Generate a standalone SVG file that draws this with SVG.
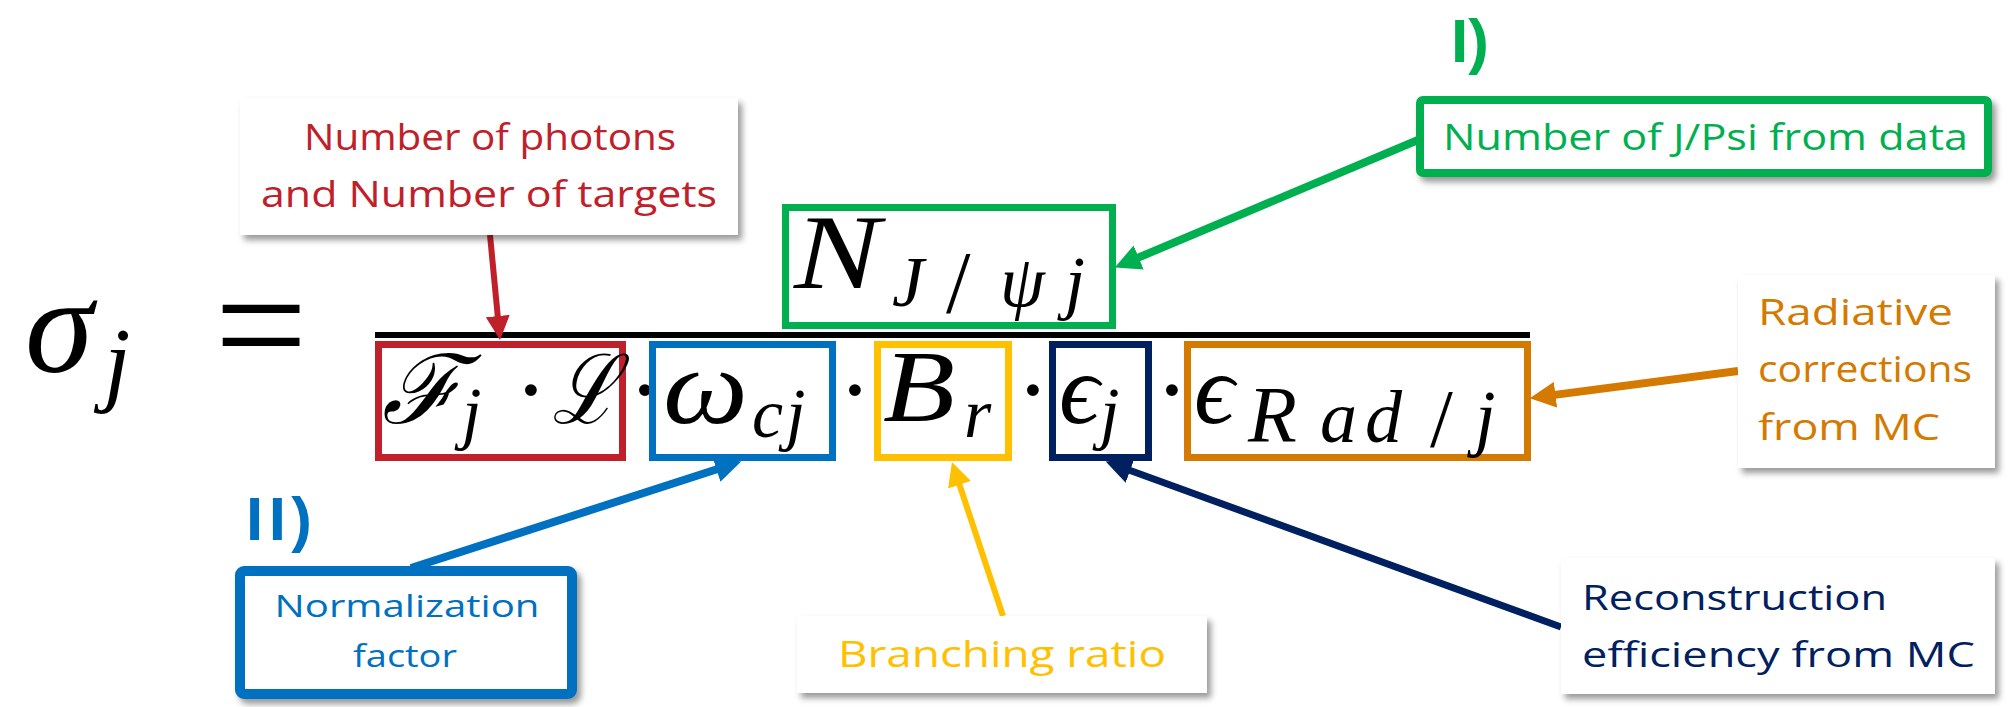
<svg xmlns="http://www.w3.org/2000/svg" width="2010" height="707" viewBox="0 0 2010 707">
<style>
.lbl{font-family:"Open Sans","Noto Sans",sans-serif;}
.m{font-family:"Liberation Serif","DejaVu Serif",serif;font-style:italic;fill:#000;}
.mu{font-family:"Liberation Serif","DejaVu Serif",serif;fill:#000;}
.box{fill:none;stroke-width:7;}
.card{fill:#fff;filter:url(#sh);}
.con{fill:none;stroke-linecap:butt;}
.roman{font-family:"Liberation Sans","Noto Sans",sans-serif;font-weight:bold;}
</style>
<defs>
<filter id="sh" x="-10%" y="-10%" width="125%" height="135%">
<feDropShadow dx="4" dy="5" stdDeviation="3" flood-color="#000" flood-opacity="0.4"/>
</filter>
<marker id="aR" viewBox="0 0 24 24" markerWidth="24" markerHeight="24" refX="8" refY="12" orient="auto" markerUnits="userSpaceOnUse"><path d="M0,0 L24,12 L0,24 z" fill="#C0202A"/></marker>
<marker id="aG" viewBox="0 0 24 24" markerWidth="26" markerHeight="26" refX="8" refY="12" orient="auto" markerUnits="userSpaceOnUse"><path d="M0,0 L24,12 L0,24 z" fill="#00B050"/></marker>
<marker id="aB" viewBox="0 0 24 24" markerWidth="26" markerHeight="26" refX="8" refY="12" orient="auto" markerUnits="userSpaceOnUse"><path d="M0,0 L24,12 L0,24 z" fill="#0070C0"/></marker>
<marker id="aY" viewBox="0 0 24 24" markerWidth="24" markerHeight="24" refX="8" refY="12" orient="auto" markerUnits="userSpaceOnUse"><path d="M0,0 L24,12 L0,24 z" fill="#FFC000"/></marker>
<marker id="aN" viewBox="0 0 24 24" markerWidth="26" markerHeight="26" refX="8" refY="12" orient="auto" markerUnits="userSpaceOnUse"><path d="M0,0 L24,12 L0,24 z" fill="#002060"/></marker>
<marker id="aO" viewBox="0 0 24 24" markerWidth="26" markerHeight="26" refX="8" refY="12" orient="auto" markerUnits="userSpaceOnUse"><path d="M0,0 L24,12 L0,24 z" fill="#D47A00"/></marker>
</defs>
<rect width="2010" height="707" fill="#fff"/>

<g id="formula">
<text class="m" x="25" y="372" font-size="138">σ</text>
<text class="m" x="104" y="394" font-size="95">j</text>
<text class="mu" x="261" y="380" font-size="165" text-anchor="middle">=</text>
<rect x="375" y="332" width="1155" height="6" fill="#000"/>
</g>

<g id="numerator">
<rect class="box" x="785.5" y="207.5" width="327" height="118" stroke="#00B050"/>
<text class="m" x="794" y="288" font-size="106" textLength="86" lengthAdjust="spacingAndGlyphs">N</text>
<text class="m" x="892" y="306" font-size="72">J</text>
<text class="mu" x="946" y="312" font-size="88">/</text>
<text class="m" x="1000" y="306" font-size="72">ψ</text>
<text class="m" x="1065" y="306" font-size="72">j</text>
</g>

<g id="den-F-L">
<rect class="box" x="378.5" y="344.5" width="244" height="113" stroke="#C0202A"/>
<text class="m" x="382" y="423" font-size="96" textLength="80" lengthAdjust="spacingAndGlyphs">ℱ</text>
<text class="m" x="462" y="436" font-size="70">j</text>
<text class="mu" x="531" y="423" font-size="100" text-anchor="middle">·</text>
<text class="m" x="552" y="423" font-size="96" textLength="66" lengthAdjust="spacingAndGlyphs">ℒ</text>
</g>
<text class="mu" x="645" y="423" font-size="100" text-anchor="middle">·</text>

<g id="den-omega">
<rect class="box" x="652.5" y="344.5" width="180" height="113" stroke="#0070C0"/>
<text class="m" x="663" y="423" font-size="108" textLength="85" lengthAdjust="spacingAndGlyphs">ω</text>
<text class="m" x="752" y="437" font-size="70">c</text>
<text class="m" x="786" y="437" font-size="70">j</text>
</g>
<text class="mu" x="855" y="423" font-size="100" text-anchor="middle">·</text>

<g id="den-Br">
<rect class="box" x="877.5" y="344.5" width="131" height="113" stroke="#FFC000"/>
<text class="m" x="883" y="421" font-size="102" textLength="72" lengthAdjust="spacingAndGlyphs">B</text>
<text class="m" x="964" y="437" font-size="70">r</text>
</g>
<text class="mu" x="1033" y="423" font-size="100" text-anchor="middle">·</text>

<g id="den-eps">
<rect class="box" x="1052.5" y="344.5" width="96" height="113" stroke="#002060"/>
<text class="m" x="1059" y="423" font-size="100">ϵ</text>
<text class="m" x="1100" y="436" font-size="70">j</text>
</g>
<text class="mu" x="1172" y="423" font-size="100" text-anchor="middle">·</text>

<g id="den-epsrad">
<rect class="box" x="1187.5" y="344.5" width="340" height="113" stroke="#D47A00"/>
<text class="m" x="1194" y="423" font-size="100">ϵ</text>
<text class="m" x="1248" y="442" font-size="80">R</text>
<text class="m" x="1320" y="442" font-size="74">a</text>
<text class="m" x="1365" y="442" font-size="74">d</text>
<text class="mu" x="1430" y="446" font-size="82">/</text>
<text class="m" x="1475" y="442" font-size="74">j</text>
</g>

<g id="connectors">
<line class="con" x1="490" y1="235" x2="498.5" y2="324" stroke="#C0202A" stroke-width="6" marker-end="url(#aR)"/>
<line class="con" x1="1418" y1="140" x2="1130.7" y2="260.8" stroke="#00B050" stroke-width="8" marker-end="url(#aG)"/>
<line class="con" x1="411" y1="568" x2="724.7" y2="466.8" stroke="#0070C0" stroke-width="8" marker-end="url(#aB)"/>
<line class="con" x1="1003" y1="616" x2="957" y2="477.2" stroke="#FFC000" stroke-width="6" marker-end="url(#aY)"/>
<line class="con" x1="1561" y1="627" x2="1122" y2="467.5" stroke="#002060" stroke-width="7" marker-end="url(#aN)"/>
<line class="con" x1="1738" y1="371" x2="1546.9" y2="395.9" stroke="#D47A00" stroke-width="8" marker-end="url(#aO)"/>
</g>

<g id="lbl-photons">
<rect class="card" x="240" y="98" width="498" height="137"/>
<text class="lbl" x="490" y="150" font-size="37" fill="#C0202A" text-anchor="middle" textLength="372" lengthAdjust="spacingAndGlyphs">Number of photons</text>
<text class="lbl" x="489" y="207" font-size="37" fill="#C0202A" text-anchor="middle" textLength="456" lengthAdjust="spacingAndGlyphs">and Number of targets</text>
</g>

<g id="lbl-jpsi">
<text class="roman" x="1451" y="62" font-size="62" fill="#00B050">I)</text>
<rect x="1420" y="100" width="568" height="73" rx="3" fill="#fff" stroke="#00B050" stroke-width="8" filter="url(#sh)"/>
<text class="lbl" x="1443" y="150" font-size="36" fill="#00B050" textLength="525" lengthAdjust="spacingAndGlyphs">Number of J/Psi from data</text>
</g>

<g id="lbl-rad">
<rect class="card" x="1738" y="275" width="257" height="193"/>
<text class="lbl" x="1758" y="325" font-size="37" fill="#D47A00" textLength="195" lengthAdjust="spacingAndGlyphs">Radiative</text>
<text class="lbl" x="1758" y="382" font-size="37" fill="#D47A00" textLength="214" lengthAdjust="spacingAndGlyphs">corrections</text>
<text class="lbl" x="1758" y="440" font-size="37" fill="#D47A00" textLength="182" lengthAdjust="spacingAndGlyphs">from MC</text>
</g>

<g id="lbl-norm">
<text class="roman" x="246" y="540" font-size="62" fill="#0070C0" textLength="66" lengthAdjust="spacing">II)</text>
<rect x="240" y="571" width="332" height="123" rx="4" fill="#fff" stroke="#0070C0" stroke-width="10" filter="url(#sh)"/>
<text class="lbl" x="407" y="617" font-size="31" fill="#0070C0" text-anchor="middle" textLength="265" lengthAdjust="spacingAndGlyphs">Normalization</text>
<text class="lbl" x="405" y="667" font-size="31" fill="#0070C0" text-anchor="middle" textLength="104" lengthAdjust="spacingAndGlyphs">factor</text>
</g>

<g id="lbl-br">
<rect class="card" x="797" y="616" width="410" height="77"/>
<text class="lbl" x="838" y="667" font-size="37" fill="#FFC000" textLength="328" lengthAdjust="spacingAndGlyphs">Branching ratio</text>
</g>

<g id="lbl-reco">
<rect class="card" x="1561" y="558" width="434" height="136"/>
<text class="lbl" x="1582" y="610" font-size="35" fill="#002060" textLength="305" lengthAdjust="spacingAndGlyphs">Reconstruction</text>
<text class="lbl" x="1582" y="667" font-size="35" fill="#002060" textLength="393" lengthAdjust="spacingAndGlyphs">efficiency from MC</text>
</g>
</svg>
